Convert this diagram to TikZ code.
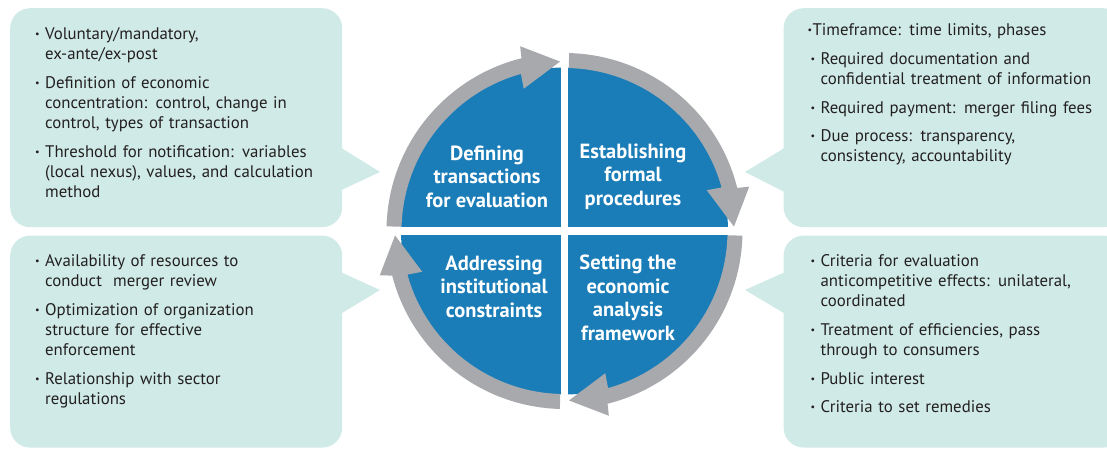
\documentclass[tikz,border=0pt]{standalone}
\usepackage{fontspec}
\setmainfont{PT Sans}
\usetikzlibrary{positioning, calc}

\definecolor{quadblue}{HTML}{1A7DB8}
\definecolor{ringgray}{HTML}{A7A9AC}
\definecolor{calloutfill}{HTML}{D0EBE7}
\definecolor{bodytext}{HTML}{231F20}

% one bullet point, continuation lines indented
\newcommand{\bdot}{\raisebox{0.12em}{\scalebox{0.6}{\textbullet}}}
\newcommand{\bitem}[1]{\par\noindent\makebox[10pt][l]{\bdot}\begin{tabular}[t]{@{}l@{}}#1\end{tabular}\par\vspace{8pt}}

\begin{document}
\begin{tikzpicture}[x=1pt, y=1pt,
    callout/.style={fill=calloutfill, rounded corners=20pt, minimum width=332pt, inner sep=0pt},
    pointer/.style={fill=calloutfill},
    listtext/.style={text=bodytext, text width=320pt, align=left, inner sep=0pt,
        font=\fontsize{16.8}{20}\selectfont},
    quadtext/.style={text=white, align=center, inner sep=0pt,
        font=\fontsize{20.5}{23.5}\selectfont\bfseries},
    ringarrow/.style={fill=ringgray}
]
\useasboundingbox (0,0) rectangle (1107,448);
\clip (0,0) rectangle (1107,448);

% Callout boxes
\node[callout, minimum height=219pt, anchor=north west] (defbox) at (10,440) {};
\node[callout, minimum height=212pt, below=8pt of defbox] (instbox) {};
\node[callout, minimum width=340pt, minimum height=219pt, anchor=west] (procbox) at ($(defbox.east)+(441,0)$) {};
\node[callout, minimum width=340pt, minimum height=212pt, below=8pt of procbox] (econbox) {};

% Pointer tips
\coordinate (deftip) at (380,276);
\coordinate (insttip) at (380,158);
\coordinate (proctip) at (745,276);
\coordinate (econtip) at (745,158);

\fill[pointer] ($(defbox.north east)+(-1,-140)$) -- (deftip) -- ($(defbox.north east)+(-1,-182)$) -- cycle;
\fill[pointer] ($(instbox.north east)+(-1,-37)$) -- (insttip) -- ($(instbox.north east)+(-1,-78)$) -- cycle;
\fill[pointer] ($(procbox.north west)+(1,-140)$) -- (proctip) -- ($(procbox.north west)+(1,-184)$) -- cycle;
\fill[pointer] ($(econbox.north west)+(1,-37)$) -- (econtip) -- ($(econbox.north west)+(1,-78)$) -- cycle;

% Box texts
\node[listtext, anchor=north west] (deftext) at ($(defbox.north west)+(25,-11)$) {%
  \bitem{Voluntary/mandatory,\\ex-ante/ex-post}%
  \bitem{Definition of economic\\concentration: control, change in\\control, types of transaction}%
  \bitem{Threshold for notification: variables\\(local nexus), values, and calculation\\method}};
\node[listtext, anchor=north west] (insttext) at ($(instbox.north west)+(25,-11)$) {%
  \bitem{Availability of resources to\\conduct\ \ merger review}%
  \bitem{Optimization of organization\\structure for effective\\enforcement}%
  \bitem{Relationship with sector\\regulations}};
\node[listtext, anchor=north west] (proctext) at ($(procbox.north west)+(27,-13)$) {%
  \noindent\hspace{-3pt}\makebox[5pt][l]{\bdot}\begin{tabular}[t]{@{}l@{}}Timeframce: time limits, phases\end{tabular}\par\vspace{9pt}%
  \bitem{Required documentation and\\confidential treatment of information}%
  \bitem{Required payment: merger filing fees}%
  \bitem{Due process: transparency,\\consistency, accountability}};
\node[listtext, anchor=north west] (econtext) at ($(econbox.north west)+(27,-11)$) {%
  \bitem{Criteria for evaluation\\anticompetitive effects: unilateral,\\coordinated}%
  \bitem{Treatment of efficiencies, pass\\through to consumers}%
  \bitem{Public interest}%
  \bitem{Criteria to set remedies}};

% Circle of four quadrants
\coordinate (c) at (564.5,217);
\fill[quadblue] (c) circle[radius=163.5];
\fill[white] ($(c)+(-3.5,-170)$) rectangle ($(c)+(3.5,170)$);
\fill[white] ($(c)+(-170,-4)$) rectangle ($(c)+(170,4)$);

% Circular arrows
\begin{scope}[shift={(c)}]
\fill[ringarrow] (178.5:178) arc[start angle=178.5, end angle=104, radius=178] -- (103.5:190) -- (91.5:169.5) -- (106:148) -- (105.5:163) arc[start angle=105.5, end angle=178.5, radius=163] -- cycle;
\fill[ringarrow] (88.5:178) arc[start angle=88.5, end angle=14, radius=178] -- (13.5:190) -- (1.5:169.5) -- (16:148) -- (15.5:163) arc[start angle=15.5, end angle=88.5, radius=163] -- cycle;
\fill[ringarrow] (-1.5:178) arc[start angle=-1.5, end angle=-76, radius=178] -- (-76.5:190) -- (-88.5:169.5) -- (-74:148) -- (-74.5:163) arc[start angle=-74.5, end angle=-1.5, radius=163] -- cycle;
\fill[ringarrow] (-91.5:178) arc[start angle=-91.5, end angle=-165.5, radius=178] -- (-166.5:190) -- (-178.5:169.5) -- (-164:148) -- (-164.5:163) arc[start angle=-164.5, end angle=-91.5, radius=163] -- cycle;
\end{scope}

% Quadrant labels
\node[quadtext] (defining) at ($(c)+(-77.5,54.5)$) {Defining\\transactions\\for evaluation};
\node[quadtext] (establishing) at ($(c)+(68.5,54.5)$) {Establishing\\formal\\procedures};
\node[quadtext] (addressing) at ($(c)+(-70.5,-55.5)$) {Addressing\\institutional\\constraints};
\node[quadtext] (setting) at ($(c)+(63.5,-67)$) {Setting the\\economic\\analysis\\framework};

\end{tikzpicture}
\end{document}
